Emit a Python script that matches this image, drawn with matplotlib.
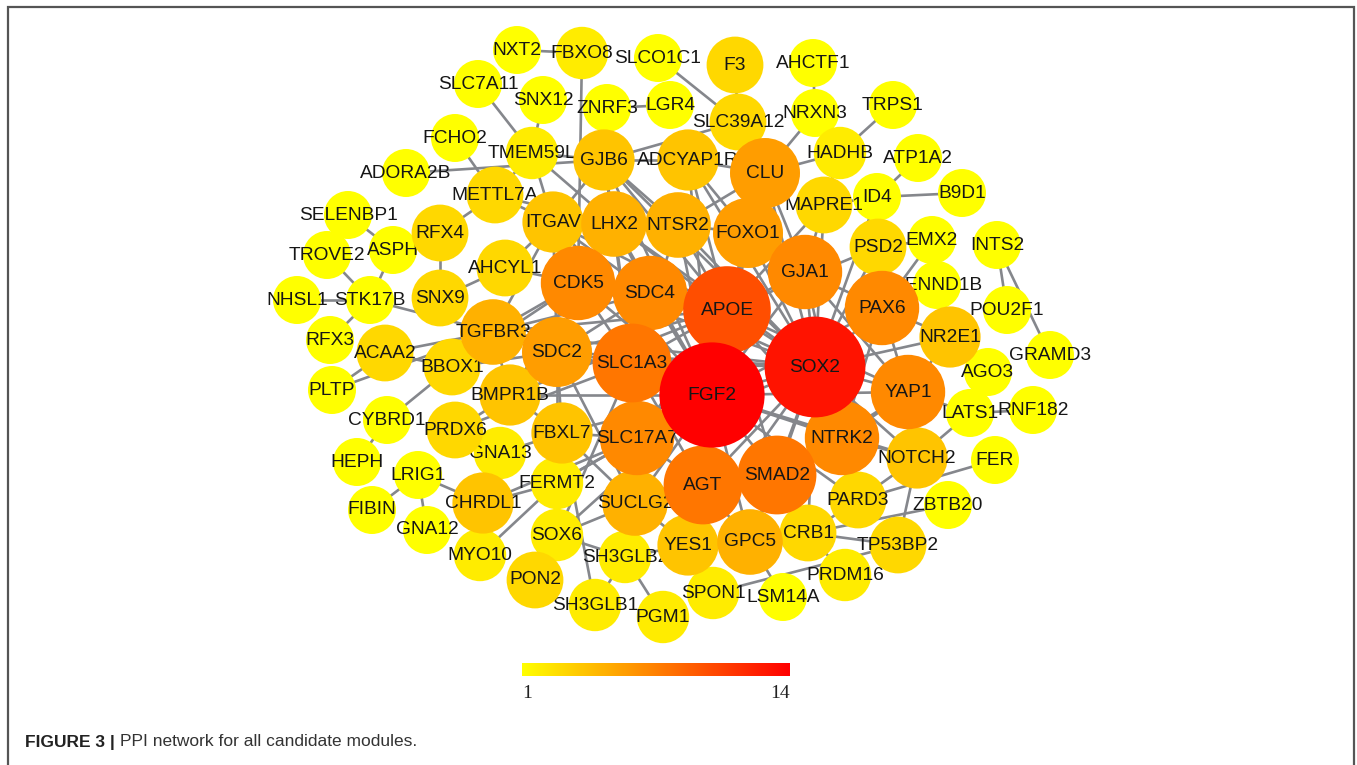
import numpy as np
import matplotlib.pyplot as plt
from matplotlib.patches import Circle
from matplotlib.colors import LinearSegmentedColormap

# node names, degree score and layout position (pixel grid, y down)
genes = ["NXT2", "FBXO8", "SLCO1C1", "F3", "AHCTF1", "SLC7A11", "SNX12", "ZNRF3",
         "LGR4", "SLC39A12", "NRXN3", "TRPS1", "FCHO2", "TMEM59L", "GJB6", "ADCYAP1R",
         "CLU", "HADHB", "ATP1A2", "ADORA2B", "METTL7A", "ID4", "B9D1", "MAPRE1",
         "SELENBP1", "ITGAV", "LHX2", "NTSR2", "FOXO1", "PSD2", "EMX2", "INTS2",
         "RFX4", "TROVE2", "ASPH", "AHCYL1", "CDK5", "SDC4", "APOE", "GJA1", "PAX6",
         "DENND1B", "POU2F1", "NHSL1", "STK17B", "SNX9", "TGFBR3", "SDC2", "SLC1A3",
         "SOX2", "FGF2", "YAP1", "NR2E1", "GRAMD3", "AGO3", "RFX3", "ACAA2", "BBOX1",
         "PLTP", "BMPR1B", "LATS1", "RNF182", "CYBRD1", "PRDX6", "FBXL7", "SLC17A7",
         "NTRK2", "NOTCH2", "FER", "HEPH", "GNA13", "LRIG1", "FERMT2", "AGT", "SMAD2",
         "CHRDL1", "FIBIN", "SUCLG2", "PARD3", "ZBTB20", "GNA12", "SOX6", "YES1",
         "GPC5", "CRB1", "TP53BP2", "MYO10", "SH3GLB2", "PRDM16", "PON2", "SPON1",
         "LSM14A", "SH3GLB1", "PGM1"]

degree = [1, 2, 1, 3, 1, 1, 1, 1,
          1, 3, 1, 1, 1, 2, 4, 4,
          6, 2, 1, 1, 3, 1, 1, 3,
          1, 4, 5, 5, 6, 3, 1, 1,
          3, 1, 1, 3, 7, 7, 10, 7, 7,
          1, 1, 1, 1, 3, 5, 6, 8,
          13, 14, 7, 4, 1, 1, 1, 3, 3,
          1, 4, 1, 1, 1, 3, 4, 7,
          7, 4, 1, 1, 2, 1, 2, 8, 8,
          4, 1, 5, 3, 1, 1, 2, 4,
          5, 3, 3, 2, 2, 2, 3, 2,
          1, 2, 2]

layout = {
    "NXT2": (517, 50), "FBXO8": (582, 53), "SLCO1C1": (658, 58), "F3": (735, 65),
    "AHCTF1": (813, 63), "SLC7A11": (478, 84), "SNX12": (543, 100), "ZNRF3": (607, 108),
    "LGR4": (670, 105), "SLC39A12": (738, 122), "NRXN3": (815, 113), "TRPS1": (893, 105),
    "FCHO2": (455, 138), "TMEM59L": (532, 153), "GJB6": (604, 160), "ADCYAP1R": (688, 160),
    "CLU": (765, 173), "HADHB": (840, 153), "ATP1A2": (918, 158), "ADORA2B": (406, 173),
    "METTL7A": (495, 195), "ID4": (877, 197), "B9D1": (962, 193), "MAPRE1": (824, 205),
    "SELENBP1": (348, 215), "ITGAV": (553, 222), "LHX2": (614, 224), "NTSR2": (678, 225),
    "FOXO1": (748, 233), "PSD2": (878, 247), "EMX2": (932, 240), "INTS2": (997, 245),
    "RFX4": (440, 233), "TROVE2": (327, 255), "ASPH": (393, 250), "AHCYL1": (505, 268),
    "CDK5": (578, 283), "SDC4": (650, 293), "APOE": (727, 310), "GJA1": (805, 272),
    "PAX6": (882, 308), "DENND1B": (937, 285), "POU2F1": (1007, 310), "NHSL1": (297, 300),
    "STK17B": (370, 300), "SNX9": (440, 298), "TGFBR3": (493, 332), "SDC2": (557, 352),
    "SLC1A3": (632, 363), "SOX2": (815, 367), "FGF2": (712, 395), "YAP1": (908, 392),
    "NR2E1": (950, 337), "GRAMD3": (1050, 355), "AGO3": (988, 372), "RFX3": (330, 340),
    "ACAA2": (385, 353), "BBOX1": (452, 367), "PLTP": (332, 390), "BMPR1B": (510, 395),
    "LATS1": (970, 413), "RNF182": (1033, 410), "CYBRD1": (387, 420), "PRDX6": (455, 430),
    "FBXL7": (562, 433), "SLC17A7": (637, 438), "NTRK2": (842, 438), "NOTCH2": (917, 458),
    "FER": (995, 460), "HEPH": (357, 462), "GNA13": (500, 453), "LRIG1": (418, 475),
    "FERMT2": (557, 483), "AGT": (703, 485), "SMAD2": (777, 475), "CHRDL1": (483, 503),
    "FIBIN": (372, 510), "SUCLG2": (635, 503), "PARD3": (858, 500), "ZBTB20": (948, 505),
    "GNA12": (427, 530), "SOX6": (557, 535), "YES1": (688, 545), "GPC5": (750, 542),
    "CRB1": (808, 533), "TP53BP2": (898, 545), "MYO10": (480, 555), "SH3GLB2": (625, 557),
    "PRDM16": (845, 575), "PON2": (535, 580), "SPON1": (713, 593), "LSM14A": (783, 597),
    "SH3GLB1": (595, 605), "PGM1": (663, 617),
}

# outer interactions
edges_outer = [
    ("NXT2", "FBXO8"), ("FBXO8", "CDK5"), ("SLC7A11", "TMEM59L"), ("SNX12", "TMEM59L"),
    ("FCHO2", "METTL7A"), ("ADORA2B", "GJB6"), ("TMEM59L", "GJB6"), ("TMEM59L", "ITGAV"),
    ("TMEM59L", "LHX2"), ("SLCO1C1", "SLC39A12"), ("F3", "SLC39A12"), ("AHCTF1", "NRXN3"),
    ("ZNRF3", "LGR4"), ("GJB6", "SLC39A12"), ("NRXN3", "CLU"), ("TRPS1", "HADHB"),
    ("HADHB", "CLU"), ("HADHB", "MAPRE1"), ("ATP1A2", "ID4"), ("ID4", "B9D1"),
    ("ID4", "MAPRE1"), ("SELENBP1", "ASPH"), ("ASPH", "STK17B"), ("TROVE2", "STK17B"),
    ("NHSL1", "STK17B"), ("STK17B", "TGFBR3"), ("RFX3", "STK17B"), ("ACAA2", "PLTP"),
    ("ACAA2", "BBOX1"), ("ACAA2", "TGFBR3"), ("RFX4", "METTL7A"), ("RFX4", "SNX9"),
    ("SNX9", "AHCYL1"), ("AHCYL1", "CDK5"), ("AHCYL1", "ITGAV"), ("METTL7A", "ITGAV"),
    ("METTL7A", "TMEM59L"), ("METTL7A", "LHX2"), ("INTS2", "POU2F1"), ("INTS2", "GRAMD3"),
    ("DENND1B", "PAX6"), ("EMX2", "PAX6"), ("EMX2", "PSD2"), ("NR2E1", "SOX2"),
    ("NR2E1", "PAX6"), ("NR2E1", "YAP1"), ("AGO3", "NR2E1"), ("LATS1", "YAP1"),
    ("LATS1", "NOTCH2"), ("FER", "PARD3"), ("ZBTB20", "CRB1"), ("NOTCH2", "TP53BP2"),
    ("SPON1", "TP53BP2"), ("PRDM16", "CRB1"), ("PGM1", "SH3GLB2"), ("SH3GLB1", "SH3GLB2"),
    ("SH3GLB2", "SOX6"), ("SOX6", "FERMT2"), ("FERMT2", "CHRDL1"), ("GNA12", "LRIG1"),
    ("LRIG1", "CHRDL1"), ("HEPH", "CYBRD1"), ("FIBIN", "LRIG1"), ("CYBRD1", "BBOX1"),
    ("PRDX6", "BMPR1B"), ("MYO10", "FERMT2"), ("GNA13", "FBXL7"), ("GNA13", "CHRDL1"),
    ("SH3GLB1", "FBXL7"), ("LSM14A", "GPC5"), ("PON2", "SOX6"), ("SOX6", "SLC1A3"),
    ("RNF182", "LATS1"), ("PLTP", "TGFBR3"), ("PRDX6", "SLC1A3"), ("BBOX1", "SDC2"),
    ("CHRDL1", "SLC17A7"), ("FERMT2", "SDC2"), ("CDK5", "BBOX1"),
]

# core interactions
edges_core = [
    ("FGF2", n) for n in ["SOX2", "APOE", "SLC1A3", "SDC4", "CDK5", "SDC2", "GJA1", "PAX6",
                          "YAP1", "NTRK2", "SMAD2", "AGT", "SLC17A7", "SUCLG2", "GPC5",
                          "YES1", "FOXO1", "CLU", "LHX2", "NTSR2", "ITGAV", "TGFBR3",
                          "BMPR1B", "FBXL7", "FERMT2", "SOX6", "NOTCH2", "PARD3",
                          "ADCYAP1R", "GJB6"]
] + [
    ("SOX2", n) for n in ["APOE", "SLC1A3", "SDC4", "CDK5", "GJA1", "PAX6", "YAP1", "NTRK2",
                          "SMAD2", "AGT", "SLC17A7", "FOXO1", "CLU", "LHX2", "NTSR2",
                          "NOTCH2", "PARD3", "CRB1", "MAPRE1", "PSD2", "TGFBR3", "SDC2",
                          "GPC5", "YES1", "ID4", "GJB6", "ADCYAP1R"]
] + [
    ("APOE", n) for n in ["SLC1A3", "SDC4", "CDK5", "SDC2", "GJA1", "CLU", "FOXO1", "NTSR2",
                          "LHX2", "ITGAV", "AGT", "SMAD2", "SLC17A7", "BMPR1B", "TGFBR3",
                          "GJB6", "ADCYAP1R", "PSD2", "MAPRE1", "NTRK2", "YAP1"]
] + [
    ("SLC1A3", "SDC4"), ("SLC1A3", "CDK5"), ("SLC1A3", "SDC2"), ("SLC1A3", "SLC17A7"),
    ("SLC1A3", "AGT"), ("SLC1A3", "GJB6"), ("SLC1A3", "LHX2"), ("SLC1A3", "NTSR2"),
    ("SDC4", "CDK5"), ("SDC4", "SDC2"), ("SDC4", "ITGAV"), ("SDC4", "LHX2"),
    ("SDC4", "TGFBR3"), ("CDK5", "SDC2"), ("CDK5", "TGFBR3"), ("CDK5", "ITGAV"),
    ("CDK5", "LHX2"), ("CDK5", "BMPR1B"), ("SDC2", "TGFBR3"), ("SDC2", "BMPR1B"),
    ("SDC2", "FBXL7"), ("SDC2", "SUCLG2"), ("SDC2", "ITGAV"), ("GJA1", "FOXO1"),
    ("GJA1", "PAX6"), ("GJA1", "CLU"), ("GJA1", "YAP1"), ("GJA1", "NTRK2"),
    ("GJA1", "MAPRE1"), ("PAX6", "YAP1"), ("PAX6", "NTRK2"), ("PAX6", "PSD2"),
    ("YAP1", "NTRK2"), ("YAP1", "NOTCH2"), ("YAP1", "SMAD2"), ("NTRK2", "SMAD2"),
    ("NTRK2", "NOTCH2"), ("NTRK2", "PARD3"), ("SMAD2", "AGT"), ("SMAD2", "GPC5"),
    ("SMAD2", "CRB1"), ("AGT", "SLC17A7"), ("AGT", "SUCLG2"), ("AGT", "GPC5"),
    ("AGT", "YES1"), ("SLC17A7", "SUCLG2"), ("SLC17A7", "FBXL7"), ("SLC17A7", "FERMT2"),
    ("SUCLG2", "YES1"), ("SUCLG2", "SOX6"), ("SUCLG2", "FBXL7"), ("GPC5", "YES1"),
    ("GPC5", "CRB1"), ("YES1", "SH3GLB2"), ("FOXO1", "CLU"), ("FOXO1", "NTSR2"),
    ("FOXO1", "ADCYAP1R"), ("CLU", "ADCYAP1R"), ("CLU", "NTSR2"), ("LHX2", "NTSR2"),
    ("LHX2", "ITGAV"), ("NTSR2", "GJB6"), ("GJB6", "ITGAV"), ("GJB6", "ADCYAP1R"),
    ("GJB6", "LHX2"), ("ITGAV", "TGFBR3"), ("TGFBR3", "BMPR1B"), ("BMPR1B", "FBXL7"),
    ("NOTCH2", "PARD3"), ("PARD3", "CRB1"), ("CRB1", "TP53BP2"),
]

cbar_ticks = [1, 14]

cmap = LinearSegmentedColormap.from_list("deg", ["#FFFF00", "#FF8000", "#FF0000"])

W, H = 1357, 765
fig = plt.figure(figsize=(W / 100, H / 100), dpi=100)
ax = fig.add_axes([0, 0, 1, 1])
ax.set_xlim(0, W)
ax.set_ylim(H, 0)
ax.set_aspect("equal")
ax.axis("off")

# frame around the figure panel
ax.plot([8, 8, 1354, 1354], [765, 6.5, 6.5, 765], color="#555555", lw=1.6,
        solid_joinstyle="miter", zorder=1)

# edges
for a, b in edges_outer + edges_core:
    (x1, y1), (x2, y2) = layout[a], layout[b]
    ax.plot([x1, x2], [y1, y2], color="#85878c", lw=1.9, zorder=1.5,
            solid_capstyle="round")

# nodes, small ones first so hubs sit on top
order = np.argsort(degree, kind="stable")
z = 2
for i in order:
    g, d = genes[i], degree[i]
    x, y = layout[g]
    r = 24 + 2.2 * (d - 1)
    ax.add_patch(Circle((x, y), r, facecolor=cmap((d - 1) / 13), edgecolor="none",
                        zorder=z))
    ax.text(x, y, g, ha="center", va="center", fontsize=13.8,
            family="Liberation Sans", color="#161616", zorder=z + 1)
    z += 2

# colour scale bar
grad = np.linspace(0, 1, 256).reshape(1, -1)
ax.imshow(grad, cmap=cmap, extent=[522, 790, 676, 663], aspect="auto", zorder=z)
ax.text(522, 693, str(cbar_ticks[0]), ha="left", va="center", fontsize=14,
        family="Liberation Serif", color="#222222")
ax.text(790, 693, str(cbar_ticks[1]), ha="right", va="center", fontsize=14,
        family="Liberation Serif", color="#222222")

# caption
t = ax.text(25, 742, "FIGURE 3 |", ha="left", va="center", fontsize=12.5,
            family="Liberation Sans", weight="bold", color="#222222")
fig.canvas.draw()
bb = t.get_window_extent()
ax.text(25 + bb.width + 5, 742, "PPI network for all candidate modules.", ha="left",
        va="center", fontsize=12.5, family="Liberation Sans", color="#333333")

fig.savefig("out.png", dpi=100)
